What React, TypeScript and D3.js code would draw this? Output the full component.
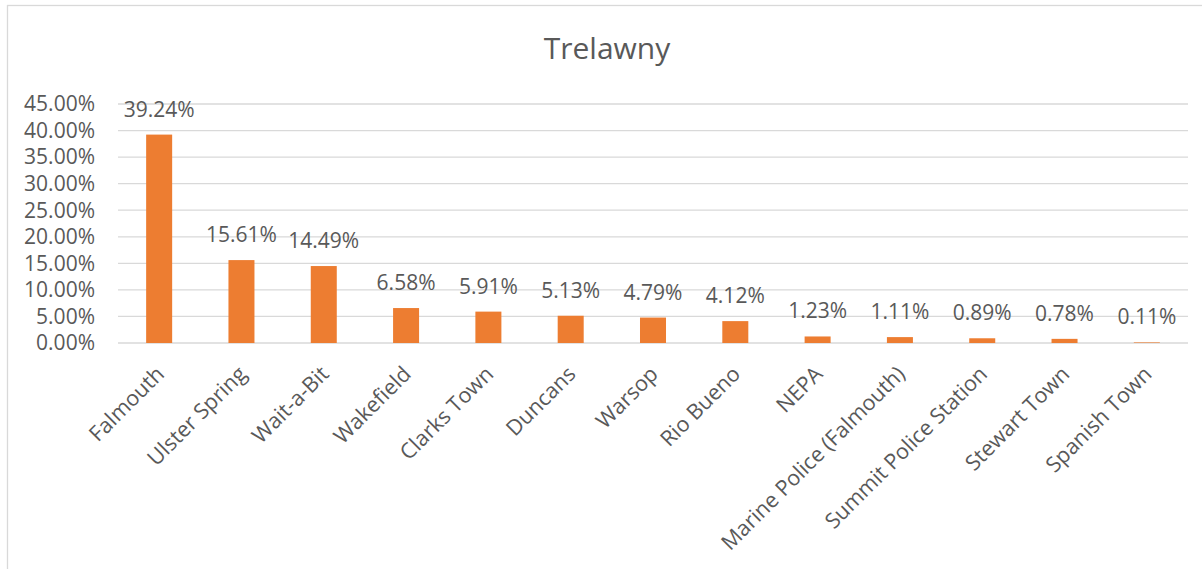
import React from "react";
import * as d3 from "d3";

const categories = [
  "Falmouth",
  "Ulster Spring",
  "Wait-a-Bit",
  "Wakefield",
  "Clarks Town",
  "Duncans",
  "Warsop",
  "Rio Bueno",
  "NEPA",
  "Marine Police (Falmouth)",
  "Summit Police Station",
  "Stewart Town",
  "Spanish Town",
];
const values = [39.24, 15.61, 14.49, 6.58, 5.91, 5.13, 4.79, 4.12, 1.23, 1.11, 0.89, 0.78, 0.11];
const yTicks = [0, 5, 10, 15, 20, 25, 30, 35, 40, 45];
const title = "Trelawny";

const W = 1202;
const H = 569;
const plot = { left: 118, right: 1188, top: 104, bottom: 343 };
const FONT = "'Open Sans', 'Noto Sans', sans-serif";
const TEXT = "#595959";
const GRID = "#D9D9D9";
const BAR = "#ED7D31";

export default function App() {
  const x = d3
    .scaleBand<string>()
    .domain(categories)
    .range([plot.left, plot.right])
    .paddingInner(0.684)
    .paddingOuter(0.342);
  const y = d3.scaleLinear().domain([0, 45]).range([plot.bottom, plot.top]);
  const fmt = (v: number) => v.toFixed(2) + "%";

  return (
    <svg
      width={W}
      height={H}
      style={{ position: "absolute", left: 0, top: 0, background: "#fff" }}
    >
      <rect x={0} y={0} width={W} height={H} fill="#fff" />
      <rect x={7.5} y={5.5} width={W + 100} height={H + 100} fill="#fff" stroke={GRID} strokeWidth={1.3} />
      <text x={607} y={59} textAnchor="middle" fontFamily={FONT} fontSize={30} fill={TEXT}>
        {title}
      </text>
      {yTicks.map((t) => (
        <g key={t}>
          <line x1={plot.left} x2={plot.right} y1={y(t)} y2={y(t)} stroke={GRID} strokeWidth={1.3} />
          <text
            x={95}
            y={y(t)}
            dy="0.35em"
            textAnchor="end"
            fontFamily={FONT}
            fontSize={21}
            fill={TEXT}
          >
            {fmt(t)}
          </text>
        </g>
      ))}
      {categories.map((c, i) => {
        const bx = x(c)!;
        const top = y(values[i]);
        const cx = bx + x.bandwidth() / 2;
        return (
          <g key={c}>
            <rect x={bx} y={top} width={x.bandwidth()} height={plot.bottom - top} fill={BAR} />
            <text
              x={cx}
              y={top - 18}
              textAnchor="middle"
              fontFamily={FONT}
              fontSize={21}
              fill={TEXT}
            >
              {fmt(values[i])}
            </text>
            <text
              transform={`translate(${cx + 1},${370}) rotate(-45)`}
              textAnchor="end"
              dy="0.35em"
              fontFamily={FONT}
              fontSize={21.5}
              fill={TEXT}
            >
              {c}
            </text>
          </g>
        );
      })}
    </svg>
  );
}
